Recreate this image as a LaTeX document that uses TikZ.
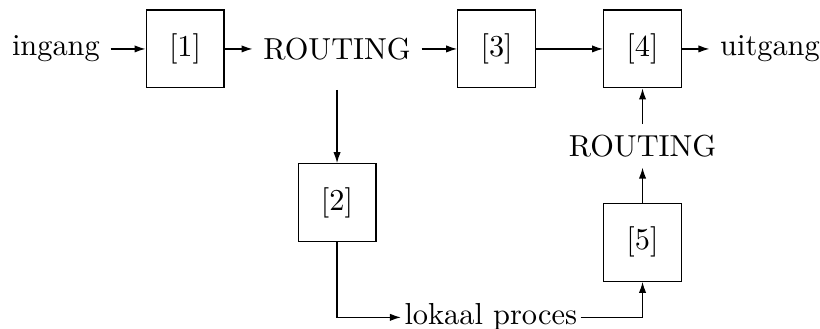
\documentclass[tikz,border=0pt]{standalone}
\usepackage{tikz}
\usetikzlibrary{positioning,arrows.meta}
\begin{document}
\begin{tikzpicture}[>={Latex[length=3.6pt,width=2.4pt]}, blok/.style={draw, minimum size=0.9cm}]
		\useasboundingbox (-18.4pt,16.1pt) rectangle (251.4pt,-92.1pt);
		\node (ingang) at (0,0) {ingang};
		\node[blok, right=11.5pt of ingang] (b1) {[1]};
		\node[right=9.2pt of b1] (routing1) {ROUTING};
		\node[blok, right=11.7pt of routing1] (b3) {[3]};
		\node[blok, right=22pt of b3] (b4) {[4]};
		\node[right=9pt of b4] (uitgang) {uitgang};
		\node[below=11.7pt of b4] (routing2) {ROUTING};
		\node[blok, below=11.6pt of routing2] (b5) {[5]};
		\node[blok, below=30.4pt of routing1] (b2) {[2]};
		\node[inner sep=1pt, below right=19.1pt and 8pt of b2] (lokaal) {lokaal proces};
		\draw[->] (ingang) -- (b1);
		\draw[->] (b1) -- (routing1);
		\draw[->] (routing1) -- (b3);
		\draw[->] (b3) -- (b4);
		\draw[->] (b4) -- (uitgang);
		\draw[->, shorten <=6.3pt] (routing1) -- (b2);
		\draw[->] (b2) |- (lokaal);
		\draw[->] (lokaal) -| (b5);
		\draw[->] (b5) -- (routing2);
		\draw[->] (routing2) -- (b4);
	\end{tikzpicture}
\end{document}
